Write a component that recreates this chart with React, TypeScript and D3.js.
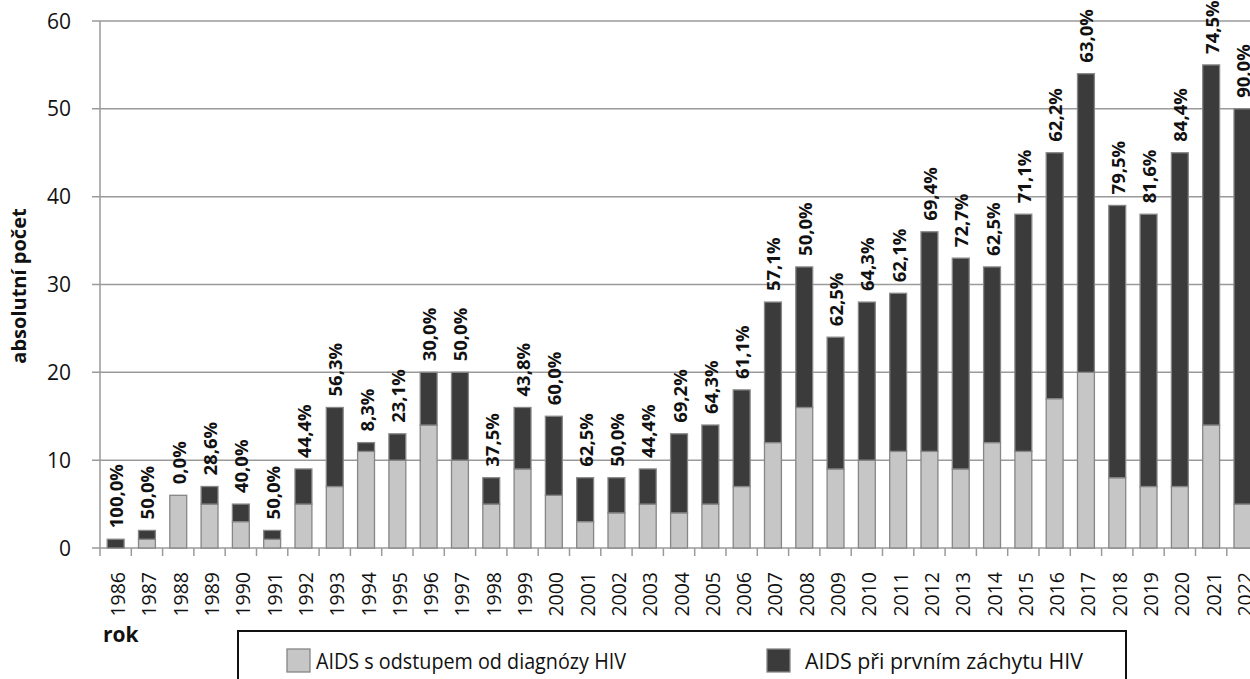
import React from "react";
import * as d3 from "d3";

const years = ["1986","1987","1988","1989","1990","1991","1992","1993","1994","1995","1996","1997","1998","1999","2000","2001","2002","2003","2004","2005","2006","2007","2008","2009","2010","2011","2012","2013","2014","2015","2016","2017","2018","2019","2020","2021","2022"];
const laterDiagnosis = [0,1,6,5,3,1,5,7,11,10,14,10,5,9,6,3,4,5,4,5,7,12,16,9,10,11,11,9,12,11,17,20,8,7,7,14,5];
const firstDetection = [1,1,0,2,2,1,4,9,1,3,6,10,3,7,9,5,4,4,9,9,11,16,16,15,18,18,25,24,20,27,28,34,31,31,38,41,45];
const pctLabels = ["100,0%","50,0%","0,0%","28,6%","40,0%","50,0%","44,4%","56,3%","8,3%","23,1%","30,0%","50,0%","37,5%","43,8%","60,0%","62,5%","50,0%","44,4%","69,2%","64,3%","61,1%","57,1%","50,0%","62,5%","64,3%","62,1%","69,4%","72,7%","62,5%","71,1%","62,2%","63,0%","79,5%","81,6%","84,4%","74,5%","90,0%"];
const yTicks = [0,10,20,30,40,50,60];
const legendLabels = ["AIDS s odstupem od diagnózy HIV","AIDS při prvním záchytu HIV"];

const W = 1250, H = 679;
const x0 = 100, band = 31.3;
const FONT = "'Open Sans', 'Noto Sans', sans-serif";
const LIGHT = "#c6c6c6", DARK = "#3b3b3b";

export default function App() {
  const x = d3.scaleBand<string>().domain(years).range([x0, x0 + band * years.length]).paddingInner(0.46).paddingOuter(0.23);
  const y = d3.scaleLinear().domain([0, 60]).range([548, 21]);
  const bw = x.bandwidth();
  const grid = "#9a9a9a";
  return (
    <svg width={W} height={H} style={{ position: "absolute", left: 0, top: 0, background: "#fff" }}>
      {yTicks.map(t => (
        <g key={t}>
          <line x1={x0 - 8} x2={W} y1={y(t)} y2={y(t)} stroke={grid} strokeWidth={1.5} />
          <text x={71} y={y(t)} dy="0.36em" textAnchor="end" fontFamily={FONT} fontSize={21} fill="#111">{t}</text>
        </g>
      ))}
      <line x1={x0} x2={x0} y1={y(60)} y2={y(0) + 8} stroke={grid} strokeWidth={1.5} />
      {years.map((yr, i) => {
        const tx = x0 + band * (i + 1);
        return <line key={"t" + yr} x1={tx} x2={tx} y1={y(0)} y2={y(0) + 8} stroke={grid} strokeWidth={1.5} />;
      })}
      {years.map((yr, i) => {
        const bx = x(yr)!;
        const a = laterDiagnosis[i], b = firstDetection[i];
        const tot = a + b;
        const cx = bx + bw / 2;
        return (
          <g key={yr}>
            {a > 0 && <rect x={bx} y={y(a)} width={bw} height={y(0) - y(a)} fill={LIGHT} stroke="#868686" strokeWidth={1.3} />}
            {b > 0 && <rect x={bx} y={y(tot)} width={bw} height={y(a) - y(tot)} fill={DARK} stroke="#868686" strokeWidth={1.3} />}
            <text transform={`translate(${cx + 7.5},${y(tot) - 11}) rotate(-90)`} fontFamily={FONT} fontWeight="bold" fontSize={18.5} fill="#111">{pctLabels[i]}</text>
            <text transform={`translate(${cx + 9.5},${572}) rotate(-90)`} textAnchor="end" fontFamily={FONT} fontSize={19.5} fill="#111">{yr}</text>
          </g>
        );
      })}
      <text transform={`translate(26,286) rotate(-90)`} textAnchor="middle" fontFamily={FONT} fontWeight="bold" fontSize={20} fill="#111">absolutní počet</text>
      <text x={103} y={642} fontFamily={FONT} fontWeight="bold" fontSize={21} fill="#111">rok</text>
      <rect x={238} y={631} width={888} height={60} fill="none" stroke="#111" strokeWidth={2} />
      <rect x={287} y={649} width={23} height={23} fill={LIGHT} stroke="#868686" strokeWidth={1.3} />
      <text x={316} y={669} fontFamily={FONT} fontSize={22} fill="#111" textLength={310} lengthAdjust="spacingAndGlyphs">{legendLabels[0]}</text>
      <rect x={767} y={649} width={23} height={23} fill={DARK} stroke="#868686" strokeWidth={1.3} />
      <text x={805} y={669} fontFamily={FONT} fontSize={22} fill="#111" textLength={278} lengthAdjust="spacingAndGlyphs">{legendLabels[1]}</text>
    </svg>
  );
}
